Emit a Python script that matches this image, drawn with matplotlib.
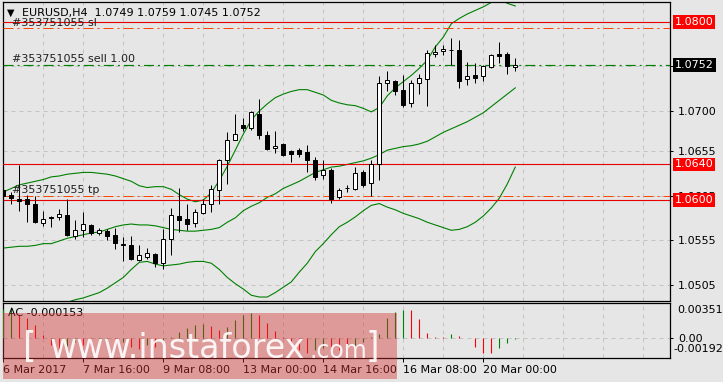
import numpy as np
import matplotlib
matplotlib.use('Agg')
from matplotlib import pyplot as plt
from matplotlib.patches import Rectangle

W, H = 723, 382
BG = '#e6e6e6'

# EURUSD H4 candles, 6 Mar 2017 00:00 onwards
opens = [1.0611, 1.0606, 1.0601, 1.0601, 1.0595, 1.0574, 1.0581, 1.0581, 1.0583, 1.0560,
         1.0566, 1.0572, 1.0563, 1.0565, 1.0561, 1.0551, 1.0550, 1.0533, 1.0536, 1.0539,
         1.0529, 1.0556, 1.0582, 1.0579, 1.0574, 1.0585, 1.0595, 1.0611, 1.0645, 1.0667,
         1.0684, 1.0681, 1.0697, 1.0673, 1.0658, 1.0663, 1.0655, 1.0656, 1.0654, 1.0645,
         1.0628, 1.0634, 1.0603, 1.0614, 1.0612, 1.0631, 1.0619, 1.0640, 1.0732, 1.0734,
         1.0724, 1.0709, 1.0731, 1.0736, 1.0764, 1.0767, 1.0769, 1.0769, 1.0736, 1.0740,
         1.0739, 1.0749, 1.0764, 1.0764, 1.0749]
highs = [1.0620, 1.0609, 1.0639, 1.0606, 1.0604, 1.0588, 1.0582, 1.0590, 1.0601, 1.0577,
         1.0587, 1.0573, 1.0569, 1.0567, 1.0569, 1.0559, 1.0560, 1.0549, 1.0546, 1.0540,
         1.0567, 1.0591, 1.0614, 1.0595, 1.0590, 1.0601, 1.0617, 1.0646, 1.0676, 1.0697,
         1.0692, 1.0700, 1.0713, 1.0678, 1.0678, 1.0664, 1.0656, 1.0658, 1.0662, 1.0648,
         1.0645, 1.0636, 1.0614, 1.0617, 1.0637, 1.0634, 1.0645, 1.0739, 1.0745, 1.0735,
         1.0740, 1.0735, 1.0742, 1.0769, 1.0774, 1.0774, 1.0782, 1.0780, 1.0755, 1.0754,
         1.0752, 1.0764, 1.0777, 1.0766, 1.0759]
lows = [1.0598, 1.0596, 1.0588, 1.0575, 1.0574, 1.0571, 1.0570, 1.0577, 1.0560, 1.0556,
        1.0558, 1.0561, 1.0561, 1.0555, 1.0545, 1.0532, 1.0533, 1.0532, 1.0534, 1.0525,
        1.0523, 1.0538, 1.0564, 1.0566, 1.0570, 1.0584, 1.0586, 1.0595, 1.0618, 1.0667,
        1.0677, 1.0679, 1.0669, 1.0656, 1.0653, 1.0649, 1.0643, 1.0648, 1.0631, 1.0623,
        1.0624, 1.0597, 1.0601, 1.0609, 1.0611, 1.0615, 1.0604, 1.0622, 1.0722, 1.0718,
        1.0704, 1.0704, 1.0719, 1.0706, 1.0761, 1.0763, 1.0752, 1.0726, 1.0729, 1.0732,
        1.0734, 1.0748, 1.0754, 1.0742, 1.0745]
closes = [1.0604, 1.0602, 1.0599, 1.0595, 1.0575, 1.0579, 1.0580, 1.0584, 1.0561, 1.0566,
          1.0573, 1.0563, 1.0566, 1.0560, 1.0552, 1.0550, 1.0534, 1.0538, 1.0540, 1.0529,
          1.0556, 1.0583, 1.0577, 1.0573, 1.0586, 1.0595, 1.0612, 1.0645, 1.0667, 1.0674,
          1.0681, 1.0699, 1.0673, 1.0657, 1.0661, 1.0651, 1.0652, 1.0652, 1.0645, 1.0626,
          1.0634, 1.0601, 1.0611, 1.0613, 1.0630, 1.0617, 1.0641, 1.0732, 1.0735, 1.0722,
          1.0707, 1.0732, 1.0737, 1.0765, 1.0766, 1.0770, 1.0768, 1.0734, 1.0739, 1.0737,
          1.0750, 1.0763, 1.0762, 1.0750, 1.0752]

# Bollinger bands as drawn on the chart
bb_upper = [1.0609, 1.0613, 1.0617, 1.0619, 1.0621, 1.0623, 1.0626, 1.0627, 1.0629, 1.0630,
            1.0631, 1.0631, 1.0630, 1.0629, 1.0627, 1.0624, 1.0621, 1.0616, 1.0614, 1.0615,
            1.0615, 1.0612, 1.0606, 1.0601, 1.0598, 1.0600, 1.0608, 1.0622, 1.0638, 1.0656,
            1.0674, 1.0690, 1.0700, 1.0708, 1.0715, 1.0719, 1.0722, 1.0724, 1.0724, 1.0721,
            1.0718, 1.0712, 1.0709, 1.0707, 1.0706, 1.0703, 1.0699, 1.0704, 1.0717, 1.0726,
            1.0733, 1.0740, 1.0748, 1.0757, 1.0772, 1.0783, 1.0798, 1.0804, 1.0809, 1.0813,
            1.0817, 1.0822, 1.0826, 1.0821, 1.0818]
bb_middle = [1.0546, 1.0547, 1.0548, 1.0548, 1.0549, 1.0551, 1.0551, 1.0554, 1.0557, 1.0559,
             1.0561, 1.0563, 1.0564, 1.0567, 1.0570, 1.0572, 1.0573, 1.0572, 1.0572, 1.0571,
             1.0569, 1.0567, 1.0566, 1.0565, 1.0565, 1.0566, 1.0567, 1.0569, 1.0575, 1.0580,
             1.0588, 1.0593, 1.0597, 1.0603, 1.0607, 1.0613, 1.0617, 1.0621, 1.0626, 1.0631,
             1.0634, 1.0637, 1.0638, 1.0640, 1.0642, 1.0644, 1.0647, 1.0651, 1.0656, 1.0658,
             1.0660, 1.0661, 1.0663, 1.0666, 1.0671, 1.0676, 1.0680, 1.0684, 1.0688, 1.0693,
             1.0698, 1.0705, 1.0712, 1.0719, 1.0726]
bb_lower = [1.0482, 1.0480, 1.0479, 1.0478, 1.0478, 1.0478, 1.0478, 1.0481, 1.0485, 1.0488,
            1.0490, 1.0493, 1.0496, 1.0501, 1.0507, 1.0513, 1.0522, 1.0530, 1.0531, 1.0528,
            1.0526, 1.0527, 1.0528, 1.0530, 1.0531, 1.0531, 1.0529, 1.0522, 1.0513, 1.0506,
            1.0500, 1.0493, 1.0491, 1.0491, 1.0496, 1.0502, 1.0508, 1.0519, 1.0529, 1.0542,
            1.0551, 1.0561, 1.0570, 1.0575, 1.0581, 1.0588, 1.0594, 1.0596, 1.0592, 1.0589,
            1.0585, 1.0582, 1.0579, 1.0575, 1.0572, 1.0569, 1.0566, 1.0567, 1.0570, 1.0575,
            1.0582, 1.0591, 1.0602, 1.0618, 1.0637]

# Accelerator oscillator
ac_values = [0.0028, 0.0030, 0.0022, 0.0019, 0.0012, 0.0003, -0.0007, -0.0011, -0.0008, -0.0004,
             -0.0007, -0.0010, -0.0006, -0.0003, -0.0006, -0.0004, -0.0009, -0.0011, -0.0007, -0.0009,
             -0.0005, 0.0001, 0.0006, 0.0009, 0.0012, 0.0013, 0.0011, 0.0008, 0.0010, 0.0017,
             0.0022, 0.0024, 0.0022, 0.0014, 0.0007, 0.0001, -0.0007, -0.0012, -0.0015, -0.0012,
             -0.0010, -0.0011, -0.0012, -0.0013, -0.0009, -0.0004, 0.0001, 0.0004, 0.0019, 0.0025,
             0.00273, 0.00272, 0.0018, 0.0005, 0.0001, 0.00003, 0.00036, 0.00016, -0.00001, -0.0009,
             -0.0015, -0.00152, -0.0010, -0.0005, -0.000153]

price_ticks = [1.0505, 1.0555, 1.0605, 1.0655, 1.0700, 1.0750]
price_tick_labels = ['1.0505', '1.0555', '1.0605', '1.0655', '1.0700', '']  # 1.0750 sits under the bid box
date_labels = ['6 Mar 2017', '7 Mar 16:00', '9 Mar 08:00', '13 Mar 00:00',
               '14 Mar 16:00', '16 Mar 08:00', '20 Mar 00:00']

order_id = '#353751055'
stop_loss = 1.0793
take_profit = 1.0605
sell_price = 1.0752
levels = [1.0800, 1.0640, 1.0600]


def px_x(x):
    return x / W


def px_y(y):
    return 1 - y / H


opens = np.array(opens)
closes = np.array(closes)
bars = np.arange(len(closes))
XLIM = (-0.075, 83.34)
LW = 0.72

fig = plt.figure(figsize=(W / 100, H / 100), dpi=100, facecolor=BG)
ax = fig.add_axes([px_x(2.7), px_y(300.5), (670 - 2.7) / W, (300.5 - 1.7) / H])
ac = fig.add_axes([px_x(2.7), px_y(357.5), (670 - 2.7) / W, (357.5 - 303) / H])

# main price panel
ax.set_facecolor(BG)
ax.set_xlim(XLIM)
ax.set_ylim(1.04871, 1.08228)
ax.set_xticks(np.arange(0, 84, 5))
ax.set_yticks(price_ticks)
ax.set_yticklabels(price_tick_labels)
ax.grid(True, color='#c4c4c4', lw=LW, linestyle=(0, (4, 4)))
ax.tick_params(axis='x', length=0, labelbottom=False)
ax.yaxis.tick_right()
ax.tick_params(axis='y', direction='out', length=2.5, width=LW, pad=3.2, labelsize=8)
for s in ax.spines.values():
    s.set_linewidth(0.9)

ax.plot(bars, bb_upper, color='#008000', lw=0.8, zorder=2)
ax.plot(bars, bb_middle, color='#008000', lw=0.8, zorder=2)
ax.plot(bars, bb_lower, color='#008000', lw=0.8, zorder=2)

up = closes >= opens
ax.vlines(bars, lows, highs, color='black', lw=LW, zorder=3)
ax.bar(bars, np.abs(closes - opens), bottom=np.minimum(opens, closes), width=0.55,
       color=np.where(up, 'white', 'black'), edgecolor='black', linewidth=LW, zorder=4)

for lv in levels:
    ax.axhline(lv, color='#e80000', lw=0.8, zorder=2.6)
dashdot = (0, (10, 4, 2, 4))
ax.axhline(stop_loss, color='#ff4500', lw=LW, linestyle=dashdot, zorder=2.6)
ax.axhline(take_profit, color='#ff4500', lw=LW, linestyle=dashdot, zorder=2.6)
ax.axhline(sell_price, color='#008000', lw=0.85, linestyle=(0, (8.5, 3.4, 1.7, 3.4)), zorder=2.6)

for txt, p in [(order_id + ' sl', stop_loss), (order_id + ' sell 1.00', sell_price),
               (order_id + ' tp', take_profit)]:
    ax.annotate(txt, (1.1, p), xytext=(0, 1.6), textcoords='offset points',
                fontsize=8, color='#202020', va='baseline', zorder=5)

xr = 1 + 4.8 / 667.3
for lv in levels:
    ax.text(xr, lv, '%.4f' % lv, transform=ax.get_yaxis_transform(), ha='left', va='center',
            fontsize=8, color='white', clip_on=False, zorder=6,
            bbox=dict(boxstyle='square,pad=0.17', fc='#ff0000', ec='none'))
ax.text(xr, sell_price, '%.4f' % sell_price, transform=ax.get_yaxis_transform(), ha='left',
        va='center', fontsize=8, color='white', clip_on=False, zorder=6,
        bbox=dict(boxstyle='square,pad=0.17', fc='black', ec='none'))

fig.text(px_x(6.5), px_y(12.5), '\u25bc', fontsize=7, va='center')
fig.text(px_x(22), px_y(13), 'EURUSD,H4  %.4f %.4f %.4f %.4f'
         % (opens[-1], highs[-1], lows[-1], closes[-1]), fontsize=8, va='center')

# AC panel
ac.set_facecolor(BG)
ac.set_xlim(XLIM)
ac.set_ylim(-0.001966, 0.003418)
ac_colors = ['#008000' if i == 0 or ac_values[i] > ac_values[i - 1] else '#ff0000'
             for i in range(len(ac_values))]
ac.vlines(bars, 0, ac_values, colors=ac_colors, lw=0.8, zorder=3)
ac.set_xticks(np.arange(0, 84, 5), minor=True)
ac.set_xticks(np.arange(0, 61, 10))
ac.set_xticklabels(date_labels, ha='left', fontsize=8)
ac.tick_params(axis='x', which='major', direction='out', length=2.9, width=LW, pad=2.5)
ac.tick_params(axis='x', which='minor', length=0)
ac.grid(True, which='both', axis='x', color='#c4c4c4', lw=LW, linestyle=(0, (4, 4)))
ac.set_yticks([0])
ac.set_yticklabels(['0.00'])
ac.yaxis.tick_right()
ac.tick_params(axis='y', direction='out', length=2.5, width=LW, pad=3.2, labelsize=8)
ac.grid(True, axis='y', color='#c4c4c4', lw=LW, linestyle=(0, (4, 4)))
for s in ac.spines.values():
    s.set_linewidth(0.9)

fig.text(px_x(8), px_y(313), 'AC %.6f' % ac_values[-1], fontsize=8, va='center')
fig.text(px_x(677), px_y(310), '0.003515', fontsize=8, va='center')
fig.text(px_x(673), px_y(349), '-0.00192', fontsize=8, va='center')

# watermark
fig.add_artist(Rectangle((px_x(3), px_y(379)), (397 - 3) / W, (379 - 312.5) / H,
                         transform=fig.transFigure, fc='#d43030', ec='none', alpha=0.42, zorder=10))
fig.text(px_x(23), px_y(357), '[', fontsize=25, color='white', va='baseline', zorder=11, alpha=0.9)
fig.text(px_x(50), px_y(358), 'www.instaforex', fontsize=24, color='white', va='baseline',
         zorder=11, alpha=0.9)
fig.text(px_x(309), px_y(358), '.com', fontsize=17, color='white', va='baseline', zorder=11, alpha=0.9)
fig.text(px_x(366), px_y(357), ']', fontsize=25, color='white', va='baseline', zorder=11, alpha=0.9)

fig.savefig('out.png', dpi=100, facecolor=BG)
